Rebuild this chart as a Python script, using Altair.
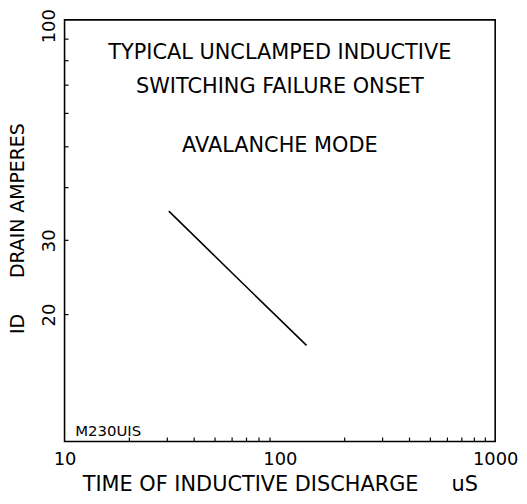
import altair as alt
import pandas as pd

# curve
t_us = [30.5, 60.0, 133.0]
id_amps = [35.2, 25.1, 16.9]

# axis labels / ticks
x_labels = [10, 100, 1000]
y_labels = [20, 30, 100]
x_minor = [20, 30, 40, 50, 60, 70, 80, 90, 200, 300, 400, 500, 600, 700, 800, 900]
y_minor = [20, 30, 40, 50, 60, 70, 80, 90]

# annotations (data units)
note_text = ["TYPICAL UNCLAMPED INDUCTIVE", "SWITCHING FAILURE ONSET", "AVALANCHE MODE"]
note_x = [100, 100, 100]
note_y = [83.2, 69.2, 50.2]
tag_text = ["M230UIS"]
tag_x = [11.2]
tag_y = [10.6]

FONT = "DejaVu Sans"

xs = alt.Scale(type="log", domain=[10, 1000], nice=False)
ys = alt.Scale(type="log", domain=[10, 100], nice=False)

curve_df = pd.DataFrame({"t": t_us, "i": id_amps})
notes_df = pd.DataFrame({"label": note_text, "x": note_x, "y": note_y})
tag_df = pd.DataFrame({"label": tag_text, "x": tag_x, "y": tag_y})
xt_df = pd.DataFrame({"v": x_minor})
yt_df = pd.DataFrame({"v": y_minor})

x_title = "TIME OF INDUCTIVE DISCHARGE" + "\u00a0" * 5 + "uS"
y_title = "ID" + "\u00a0" * 6 + "DRAIN AMPERES"

line = alt.Chart(curve_df).mark_line(color="black", strokeWidth=1.6).encode(
    x=alt.X("t:Q", scale=xs, axis=alt.Axis(
        values=x_labels, format="d", ticks=False, tickSize=0, domain=False, grid=False,
        labelFont=FONT, labelFontSize=18, labelColor="black", labelPadding=9,
        labelFlush=False, labelOverlap=False,
        title=x_title, titleFont=FONT, titleFontSize=21, titleFontWeight="normal",
        titleColor="black", titlePadding=5)),
    y=alt.Y("i:Q", scale=ys, axis=alt.Axis(
        values=y_labels, format="d", ticks=False, tickSize=0, domain=False, grid=False,
        labelFont=FONT, labelFontSize=18, labelColor="black", labelPadding=10,
        labelAngle=270, labelAlign="center", labelBaseline="alphabetic",
        labelOffset={"expr": "datum.value == 100 ? 6 : 0"},
        labelFlush=False, labelOverlap=False,
        title=y_title, titleFont=FONT, titleFontSize=19, titleFontWeight="normal",
        titleColor="black", titleAngle=270, titleAlign="center", titleBaseline="middle",
        titleX=-47, titleY=210)),
)

xticks = alt.Chart(xt_df).mark_rule(color="black", strokeWidth=1.2).encode(
    x=alt.X("v:Q", scale=xs), y=alt.value(425), y2=alt.value(421))
yticks = alt.Chart(yt_df).mark_rule(color="black", strokeWidth=1.2).encode(
    y=alt.Y("v:Q", scale=ys), x=alt.value(0), x2=alt.value(4))

notes = alt.Chart(notes_df).mark_text(font=FONT, fontSize=21, color="black",
                                      align="center", baseline="middle").encode(
    x=alt.X("x:Q", scale=xs), y=alt.Y("y:Q", scale=ys), text="label:N")

tag = alt.Chart(tag_df).mark_text(font=FONT, fontSize=15, color="black",
                                  align="left", baseline="middle").encode(
    x=alt.X("x:Q", scale=xs), y=alt.Y("y:Q", scale=ys), text="label:N")

chart = alt.layer(line, xticks, yticks, notes, tag).properties(
    width=434, height=425,
    autosize=alt.AutoSizeParams(type="none"),
    padding={"left": 57, "top": 10, "right": 24, "bottom": 58},
).configure(background="white").configure_view(stroke="black", strokeWidth=1.6)

chart.save("out.html", embed_options={"renderer": "svg", "actions": False})
